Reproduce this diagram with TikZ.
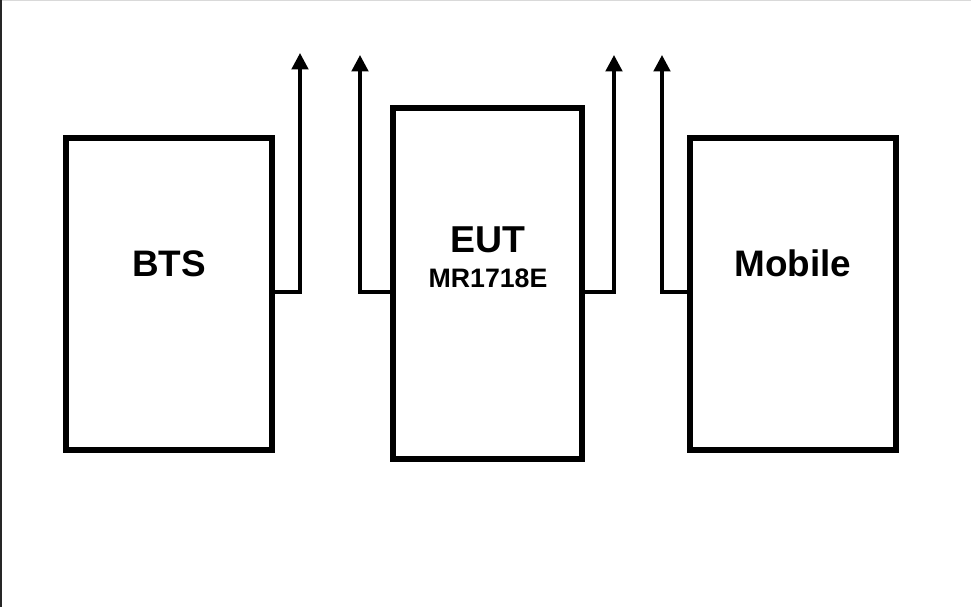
\documentclass[tikz,border=0pt]{standalone}
\usepackage{fontspec}
\setmainfont{Liberation Sans}
\usetikzlibrary{arrows.meta}
\tikzset{
  unit/.style={draw, line width=3.4pt, minimum width=4.12cm, minimum height=6.24cm, inner sep=0pt},
  sig/.style={line width=2pt, -{Triangle[length=0.33cm,width=0.33cm]}},
  unitname/.style={font=\bfseries\fontsize{21}{25}\selectfont, inner sep=0pt}
}

\begin{document}
\begin{tikzpicture}[x=0.02cm, y=-0.02cm]
        \useasboundingbox (0, 0) rectangle (971, 607);
        \draw [black!15, line width=0.7pt] (0, 0.5) -- (971, 0.5);
        \draw [black!85, line width=1.1pt] (1, 0) -- (1, 607);
        \node [unit] (bts) at (169, 294) {};
        \node [unit, minimum width=3.78cm, minimum height=7.02cm] (eut) at (487.5, 283.5) {};
        \node [unit] (mob) at (793, 294) {};
        \node [unitname] (btsname) at (169, 263.5) {BTS};
        \node [unitname, align=center] (eutname) at (488, 257) {{\fontsize{21.3}{19}\selectfont EUT}\\[-5pt]{\fontsize{15.2}{19}\selectfont MR1718E}};
        \node [unitname] (mobname) at (793, 263.5) {Mobile};
        \coordinate (lvl) at (0, 292);
        \coordinate (t1) at (300, 53);
        \coordinate (t2) at (360, 55);
        \coordinate (t3) at (614, 55);
        \coordinate (t4) at (662, 55);
        \draw [sig] (bts.east |- lvl) -| (t1);
        \draw [sig] (eut.west |- lvl) -| (t2);
        \draw [sig] (eut.east |- lvl) -| (t3);
        \draw [sig] (mob.west |- lvl) -| (t4);
    \end{tikzpicture}
\end{document}
